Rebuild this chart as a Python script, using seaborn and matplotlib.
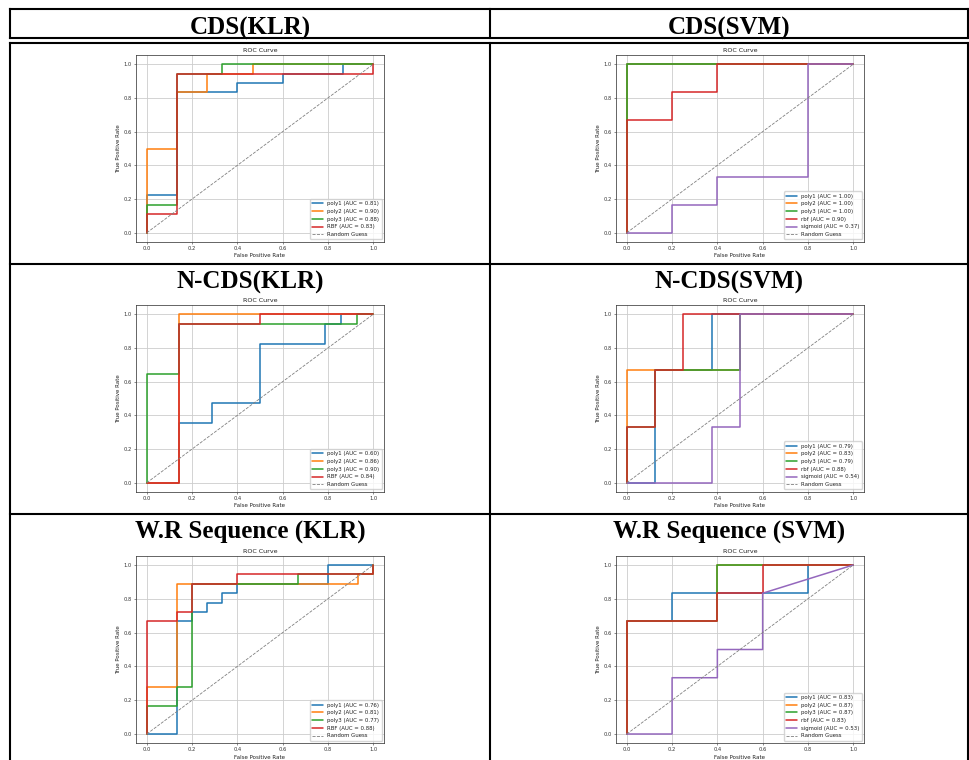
import matplotlib
matplotlib.use("Agg")
import matplotlib.pyplot as plt
from matplotlib.lines import Line2D
import seaborn as sns

# ---------------- data ----------------
HEADERS = ["CDS(KLR)", "CDS(SVM)",
           "N-CDS(KLR)", "N-CDS(SVM)",
           "W.R Sequence (KLR)", "W.R Sequence (SVM)"]
KLR_KERNELS = ["poly1", "poly2", "poly3", "RBF"]
SVM_KERNELS = ["poly1", "poly2", "poly3", "rbf", "sigmoid"]

# CDS, kernel logistic regression
cds_klr_auc = [0.81, 0.90, 0.88, 0.83]
cds_klr_fpr = [
    [0, 0, 0.133, 0.133, 0.4, 0.4, 0.6, 0.6, 0.867, 0.867, 1],
    [0, 0, 0.133, 0.133, 0.267, 0.267, 0.467, 0.467, 1],
    [0, 0, 0.133, 0.133, 0.333, 0.333, 1],
    [0, 0, 0.133, 0.133, 1, 1],
]
cds_klr_tpr = [
    [0, 0.222, 0.222, 0.833, 0.833, 0.889, 0.889, 0.944, 0.944, 1, 1],
    [0, 0.5, 0.5, 0.833, 0.833, 0.944, 0.944, 1, 1],
    [0, 0.167, 0.167, 0.944, 0.944, 1, 1],
    [0, 0.111, 0.111, 0.944, 0.944, 1],
]

# CDS, SVM
cds_svm_auc = [1.00, 1.00, 1.00, 0.90, 0.37]
cds_svm_fpr = [
    [0, 0, 1],
    [0, 0, 1],
    [0, 0, 1],
    [0, 0, 0.2, 0.2, 0.4, 0.4, 1],
    [0, 0.2, 0.2, 0.4, 0.4, 0.8, 0.8, 1],
]
cds_svm_tpr = [
    [0, 1, 1],
    [0, 1, 1],
    [0, 1, 1],
    [0, 0.667, 0.667, 0.833, 0.833, 1, 1],
    [0, 0, 0.167, 0.167, 0.333, 0.333, 1, 1],
]

# N-CDS, kernel logistic regression
ncds_klr_auc = [0.60, 0.86, 0.90, 0.84]
ncds_klr_fpr = [
    [0, 0.143, 0.143, 0.286, 0.286, 0.5, 0.5, 0.786, 0.786, 0.857, 0.857, 1],
    [0, 0.143, 0.143, 1],
    [0, 0, 0.143, 0.143, 0.929, 0.929, 1],
    [0, 0.143, 0.143, 0.5, 0.5, 1],
]
ncds_klr_tpr = [
    [0, 0, 0.353, 0.353, 0.471, 0.471, 0.824, 0.824, 0.941, 0.941, 1, 1],
    [0, 0, 1, 1],
    [0, 0.647, 0.647, 0.941, 0.941, 1, 1],
    [0, 0, 0.941, 0.941, 1, 1],
]

# N-CDS, SVM
ncds_svm_auc = [0.79, 0.83, 0.79, 0.88, 0.54]
ncds_svm_fpr = [
    [0, 0.125, 0.125, 0.375, 0.375, 1],
    [0, 0, 0.5, 0.5, 1],
    [0, 0, 0.125, 0.125, 0.5, 0.5, 1],
    [0, 0, 0.125, 0.125, 0.25, 0.25, 1],
    [0, 0.375, 0.375, 0.5, 0.5, 1],
]
ncds_svm_tpr = [
    [0, 0, 0.667, 0.667, 1, 1],
    [0, 0.667, 0.667, 1, 1],
    [0, 0.333, 0.333, 0.667, 0.667, 1, 1],
    [0, 0.333, 0.333, 0.667, 0.667, 1, 1],
    [0, 0, 0.333, 0.333, 1, 1],
]

# W.R sequence, kernel logistic regression
wr_klr_auc = [0.76, 0.81, 0.77, 0.88]
wr_klr_fpr = [
    [0, 0.133, 0.133, 0.2, 0.2, 0.267, 0.267, 0.333, 0.333, 0.4, 0.4, 0.8, 0.8, 1],
    [0, 0, 0.133, 0.133, 0.933, 0.933, 1, 1],
    [0, 0, 0.133, 0.133, 0.2, 0.2, 0.667, 0.667, 1, 1],
    [0, 0, 0.133, 0.133, 0.2, 0.2, 0.4, 0.4, 1, 1],
]
wr_klr_tpr = [
    [0, 0, 0.667, 0.667, 0.722, 0.722, 0.778, 0.778, 0.833, 0.833, 0.889, 0.889, 1, 1],
    [0, 0.278, 0.278, 0.889, 0.889, 0.944, 0.944, 1],
    [0, 0.167, 0.167, 0.278, 0.278, 0.889, 0.889, 0.944, 0.944, 1],
    [0, 0.667, 0.667, 0.722, 0.722, 0.889, 0.889, 0.944, 0.944, 1],
]

# W.R sequence, SVM
wr_svm_auc = [0.83, 0.87, 0.87, 0.83, 0.53]
wr_svm_fpr = [
    [0, 0, 0.2, 0.2, 0.8, 0.8, 1],
    [0, 0, 0.4, 0.4, 1],
    [0, 0, 0.4, 0.4, 1],
    [0, 0, 0.4, 0.4, 0.6, 0.6, 1],
    [0, 0.2, 0.2, 0.4, 0.4, 0.6, 0.6, 1],
]
wr_svm_tpr = [
    [0, 0.667, 0.667, 0.833, 0.833, 1, 1],
    [0, 0.667, 0.667, 1, 1],
    [0, 0.667, 0.667, 1, 1],
    [0, 0.667, 0.667, 0.833, 0.833, 1, 1],
    [0, 0, 0.333, 0.333, 0.5, 0.5, 0.833, 1],
]

PANELS = [
    (KLR_KERNELS, cds_klr_fpr, cds_klr_tpr, cds_klr_auc),
    (SVM_KERNELS, cds_svm_fpr, cds_svm_tpr, cds_svm_auc),
    (KLR_KERNELS, ncds_klr_fpr, ncds_klr_tpr, ncds_klr_auc),
    (SVM_KERNELS, ncds_svm_fpr, ncds_svm_tpr, ncds_svm_auc),
    (KLR_KERNELS, wr_klr_fpr, wr_klr_tpr, wr_klr_auc),
    (SVM_KERNELS, wr_svm_fpr, wr_svm_tpr, wr_svm_auc),
]

# ---------------- style ----------------
sns.set_theme(style="ticks")
plt.rcParams.update({
    "font.family": ["DejaVu Sans"],
    "axes.edgecolor": "#3a3a3a",
    "axes.linewidth": 0.55,
    "axes.labelsize": 4.0,
    "axes.labelpad": 1.6,
    "axes.titlesize": 4.6,
    "axes.titlepad": 2.3,
    "xtick.labelsize": 3.7,
    "ytick.labelsize": 3.7,
    "xtick.major.size": 1.5,
    "ytick.major.size": 1.5,
    "xtick.major.width": 0.4,
    "ytick.major.width": 0.4,
    "xtick.major.pad": 1.4,
    "ytick.major.pad": 1.4,
    "xtick.color": "#333333",
    "ytick.color": "#333333",
    "text.color": "#222222",
    "axes.labelcolor": "#222222",
    "legend.fontsize": 3.9,
})

W, H = 969, 760
fig = plt.figure(figsize=(W / 100, H / 100), dpi=100)
fig.patch.set_facecolor("white")

PALETTE = sns.color_palette("tab10")


def axes_px(left, top, right, bottom):
    return fig.add_axes([left / W, 1 - bottom / H, (right - left) / W, (bottom - top) / H])


def hline(y, x0, x1, lw=1.5):
    fig.add_artist(Line2D([x0 / W, x1 / W], [1 - y / H, 1 - y / H], transform=fig.transFigure,
                          color="black", lw=lw, solid_capstyle="projecting"))


def vline(x, y0, y1, lw=1.5):
    fig.add_artist(Line2D([x / W, x / W], [1 - y0 / H, 1 - y1 / H], transform=fig.transFigure,
                          color="black", lw=lw, solid_capstyle="projecting"))


# ---------------- table frame ----------------
hline(9, 10, 968)
hline(38.3, 10, 968)
hline(42.8, 10, 968)
hline(264.2, 10, 968)
hline(514.2, 10, 968)
for x in (10, 490, 968):
    vline(x, 9, 38.3)
    vline(x, 42.8, 762)

# ---------------- headers ----------------
HEADER_POS = [(250, 35), (729, 35), (250, 288.5), (729, 288.5), (250, 539), (729, 539)]
for title, (hx, hy) in zip(HEADERS, HEADER_POS):
    fig.text(hx / W, 1 - hy / H, title, ha="center", va="baseline",
             fontsize=18, fontweight="bold", family=["Liberation Serif", "DejaVu Serif"],
             color="black")

# ---------------- ROC panels ----------------
COLS = [(135.7, 384.3), (615.7, 864.3)]
ROWS = [(55, 242), (305, 492), (555.7, 743.3)]

for i, (kernels, fprs, tprs, aucs) in enumerate(PANELS):
    l, r = COLS[i % 2]
    t, b = ROWS[i // 2]
    ax = axes_px(l, t, r, b)
    ax.set_facecolor("white")
    ax.grid(True, color="#cccccc", lw=0.6)
    for k, (name, fpr, tpr, auc) in enumerate(zip(kernels, fprs, tprs, aucs)):
        sns.lineplot(x=fpr, y=tpr, ax=ax, sort=False, estimator=None,
                     color=PALETTE[k], lw=1.1, label=f"{name} (AUC = {auc:.2f})")
    sns.lineplot(x=[0, 1], y=[0, 1], ax=ax, sort=False, estimator=None,
                 color="gray", lw=0.6, linestyle="--", label="Random Guess")
    ax.set_xlim(-0.049, 1.049)
    ax.set_ylim(-0.055, 1.055)
    ax.set_xticks([0, 0.2, 0.4, 0.6, 0.8, 1.0])
    ax.set_yticks([0, 0.2, 0.4, 0.6, 0.8, 1.0])
    ax.set_xlabel("False Positive Rate")
    ax.set_ylabel("True Positive Rate")
    ax.set_title("ROC Curve")
    for s in ax.spines.values():
        s.set_visible(True)
    ax.legend(loc="lower right", fontsize=3.9, frameon=True)

fig.savefig("out.png", dpi=100)
